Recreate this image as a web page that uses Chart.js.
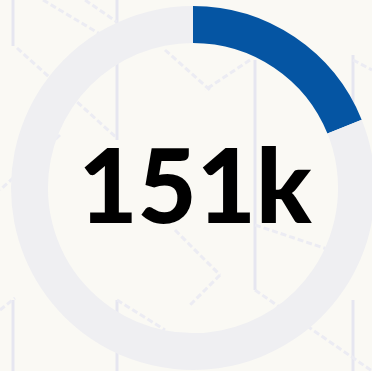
<!DOCTYPE html>
<html>
<head>
<meta charset="utf-8">
<script src="https://cdn.jsdelivr.net/npm/chart.js@4"></script>
<style>
  html, body { margin: 0; padding: 0; overflow: hidden; background: #faf9f4; }
  #wrap { position: absolute; left: 0; top: 0; width: 386px; height: 376px; }
  #bg { position: absolute; left: 0; top: 0; }
</style>
</head>
<body>
<svg id="bg" width="372" height="371" xmlns="http://www.w3.org/2000/svg">
  <g stroke="#e6e6f0" stroke-width="3" fill="none">
    <line x1="13" y1="0" x2="13" y2="46"/>
    <line x1="117" y1="0" x2="117" y2="140"/>
    <line x1="255" y1="60" x2="255" y2="290"/>
    <line x1="353" y1="55" x2="353" y2="120"/>
    <line x1="13" y1="300" x2="13" y2="371"/>
    <line x1="117" y1="300" x2="117" y2="371"/>
    <line x1="353" y1="300" x2="353" y2="371"/>
  </g>
  <g stroke="#ececf3" stroke-width="3" stroke-dasharray="6 3" fill="none">
    <line x1="43" y1="0" x2="110" y2="40"/>
    <line x1="85" y1="0" x2="117" y2="22"/>
    <line x1="17" y1="48" x2="117" y2="138"/>
    <line x1="165" y1="50" x2="210" y2="90"/>
    <line x1="250" y1="60" x2="205" y2="90"/>
    <line x1="60" y1="135" x2="0" y2="190"/>
    <line x1="255" y1="225" x2="330" y2="250"/>
    <line x1="175" y1="230" x2="220" y2="275"/>
    <line x1="220" y1="275" x2="190" y2="305"/>
    <line x1="255" y1="290" x2="372" y2="371"/>
    <line x1="117" y1="300" x2="165" y2="330"/>
    <line x1="0" y1="310" x2="15" y2="298"/>
    <line x1="353" y1="60" x2="372" y2="70"/>
  </g>
</svg>
<div id="wrap"><canvas id="gauge" width="386" height="376"></canvas></div>
<script>
const labels = ["Value", "Remaining"];
const values = [151, 649];
const centerLabel = "151k";

const centerText = {
  id: "centerText",
  afterDraw(chart) {
    const arc = chart.getDatasetMeta(0).data[0];
    const ctx = chart.ctx;
    ctx.save();
    ctx.fillStyle = "#000000";
    ctx.font = "900 102px Lato";
    ctx.textAlign = "center";
    ctx.textBaseline = "middle";
    ctx.fillText(centerLabel, arc.x + 2, arc.y + 2);
    ctx.restore();
  }
};

new Chart(document.getElementById("gauge").getContext("2d"), {
  type: "doughnut",
  data: {
    labels: labels,
    datasets: [{
      data: values,
      backgroundColor: ["#0555a3", "#efeff2"],
      borderWidth: 0
    }]
  },
  options: {
    responsive: false,
    animation: false,
    cutout: "79.7%",
    layout: { padding: { left: 11, right: 11, top: 6, bottom: 6 } },
    plugins: {
      legend: { display: false },
      tooltip: { enabled: false }
    }
  },
  plugins: [centerText]
});
</script>
</body>
</html>
